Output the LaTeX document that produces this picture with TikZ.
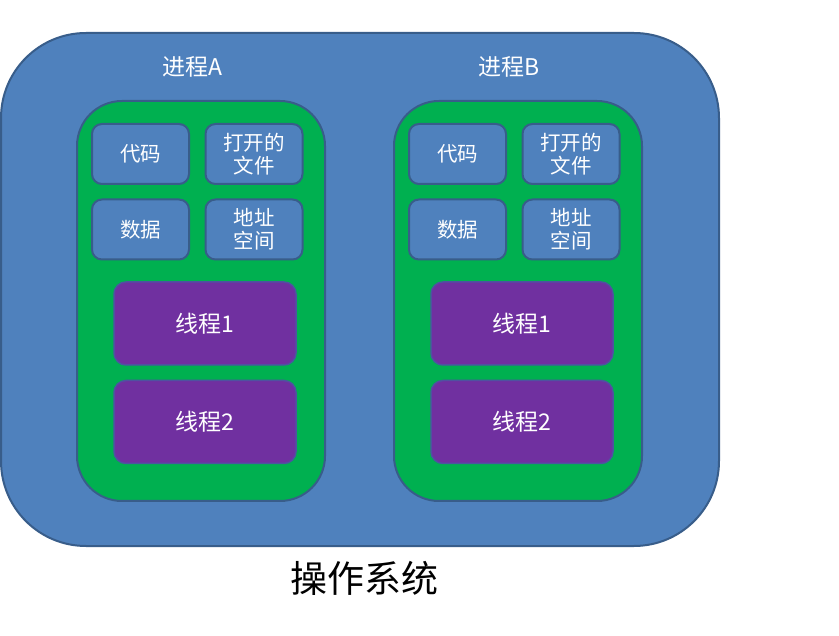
\documentclass[tikz,border=0pt]{standalone}
\usepackage{fontspec}
\newfontfamily\cjk{Noto Sans CJK SC}
\definecolor{osblue}{HTML}{4F81BD}
\definecolor{edgeblue}{HTML}{385D8A}
\definecolor{procgreen}{HTML}{00B050}
\definecolor{thpurple}{HTML}{7030A0}
\definecolor{thedge}{HTML}{4F52A0}
\begin{document}
\begin{tikzpicture}[x=1pt,y=-1pt,
  osbox/.style={draw=edgeblue,line width=2pt,fill=osblue,rounded corners=85pt},
  procbox/.style={draw=edgeblue,line width=2pt,fill=procgreen,rounded corners=45pt},
  resbox/.style={draw=edgeblue,line width=2pt,fill=osblue,rounded corners=10pt,
    minimum width=97pt,minimum height=60pt,inner sep=0pt,align=center,
    text=white,font=\cjk\fontsize{20.5}{23}\selectfont},
  thbox/.style={draw=thedge,line width=1.5pt,fill=thpurple,rounded corners=12pt,
    minimum width=182pt,minimum height=83pt,inner sep=0pt,
    text=white,font=\cjk\fontsize{23}{26}\selectfont},
  ptitle/.style={text=white,font=\cjk\fontsize{23}{26}\selectfont,inner sep=0pt}
]
\useasboundingbox (0,0) rectangle (839,636);
\fill[white] (0,0) rectangle (839,636);
\draw[osbox] (1,33) rectangle (719,546);
% Process A
\draw[procbox] (77,101) rectangle (325,501);
\node[ptitle] (ta) at (192,67) {进程A};
\node[resbox] (codeA) at (140.5,154) {代码};
\node[resbox] (fileA) at (254,154) {打开的\\文件};
\node[resbox] (dataA) at (140.5,229.5) {数据};
\node[resbox] (addrA) at (254,229.5) {地址\\空间};
\node[thbox] (t1A) at (205,323.5) {线程1};
\node[thbox] (t2A) at (205,422) {线程2};
% Process B
\draw[procbox] (394,101) rectangle (642,501);
\node[ptitle] (tb) at (509,67) {进程B};
\node[resbox] (codeB) at (457.5,154) {代码};
\node[resbox] (fileB) at (571,154) {打开的\\文件};
\node[resbox] (dataB) at (457.5,229.5) {数据};
\node[resbox] (addrB) at (571,229.5) {地址\\空间};
\node[thbox] (t1B) at (522,323.5) {线程1};
\node[thbox] (t2B) at (522,422) {线程2};
% OS label
\node[font=\cjk\fontsize{37}{42}\selectfont,inner sep=0pt] (os) at (364,578) {操作系统};
\end{tikzpicture}
\end{document}
